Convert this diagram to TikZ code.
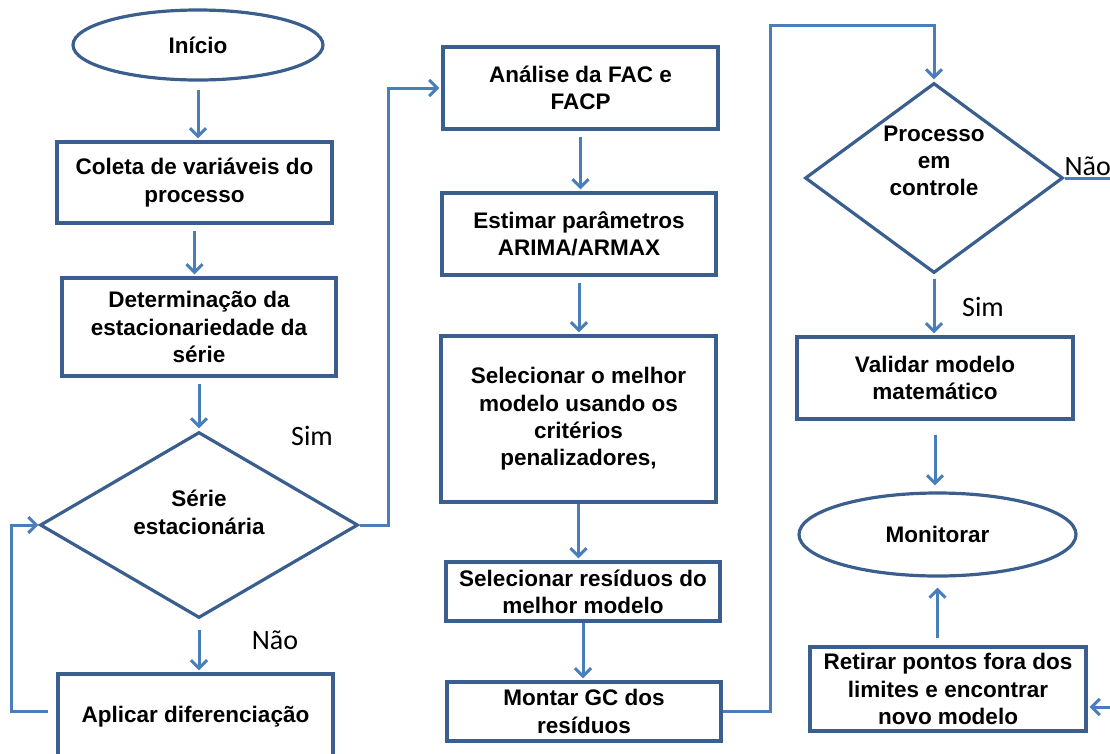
\documentclass[tikz,border=0pt]{standalone}
\usepackage{fontspec}
\setmainfont{Liberation Sans}
\newfontfamily\answerfont{Carlito}
\usepackage{xcolor}
\usetikzlibrary{shapes.geometric, positioning, arrows.meta}
\definecolor{boxblue}{HTML}{3A5F8E}
\definecolor{flowblue}{HTML}{4A7EBB}
% lift the text of a decision a little above its centre
\newcommand{\liftlines}[2]{\raisebox{#1}[\height][\depth]{\begin{tabular}{@{}c@{}}#2\end{tabular}}}
\tikzset{->,
         >={Straight Barb[length=8pt,width=16pt]},
         every node/.style={font=\fontsize{22.5}{27.3}\selectfont\bfseries, align=center},
         proc/.style={rectangle, draw=boxblue, line width=3.4pt, fill=white},
         term/.style={ellipse, draw=boxblue, line width=3.2pt},
         decision/.style={diamond, draw=boxblue, line width=3.2pt, inner sep=0pt},
         flow/.style={draw=flowblue, line width=3pt, shorten <=6pt, shorten >=2pt},
         answer/.style={font=\answerfont\fontsize{28}{30}\selectfont},
         }

\begin{document}
\begin{tikzpicture}[x=1pt, y=-1pt]
    \useasboundingbox (0,0) rectangle (1110,753);

    % left column
    \node[term, minimum width=250pt, minimum height=70pt] (inicio) at (198,45) {Início};
    \node[proc, minimum width=275pt, minimum height=81pt] (coleta) at (194.5,182.5) {Coleta de variáveis do\\processo};
    \node[proc, minimum width=274pt, minimum height=98pt] (determ) at (199,327) {Determinação da\\estacionariedade da\\série};
    \node[decision, minimum width=318pt, minimum height=170pt] (serie) at (199,525) {\liftlines{10pt}{Série\\estacionária}};
    \node[proc, minimum width=275pt, minimum height=86pt] (aplicar) at (195.5,717) {Aplicar diferenciação};

    % middle column
    \node[proc, minimum width=275pt, minimum height=82pt] (analise) at (580.5,88) {Análise da FAC e\\FACP};
    \node[proc, minimum width=274pt, minimum height=82pt] (estimar) at (579,234) {Estimar parâmetros\\ARIMA/ARMAX};
    \node[proc, minimum width=275pt, minimum height=166pt] (melhor) at (578.5,419) {Selecionar o melhor\\modelo usando os\\critérios\\penalizadores,};
    \node[proc, minimum width=274pt, minimum height=59pt] (residuos) at (583,591.5) {Selecionar resíduos do\\melhor modelo};
    \node[proc, minimum width=274pt, minimum height=59pt] (montar) at (584,711.5) {Montar GC dos\\resíduos};

    % right column
    \node[decision, minimum width=258pt, minimum height=190pt] (processo) at (934,178) {\liftlines{15pt}{Processo\\em\\controle}};
    \node[proc, minimum width=276pt, minimum height=82pt] (validar) at (935,378) {Validar modelo\\matemático};
    \node[term, minimum width=277pt, minimum height=83pt] (monitorar) at (937.5,534.5) {Monitorar};
    \node[proc, minimum width=276pt, minimum height=84pt] (retirar) at (948,689) {Retirar pontos fora dos\\limites e encontrar\\novo modelo};

    \coordinate (topturn) at (770,25);

    % answers
    \node[answer] (simA) at (312,436) {Sim};
    \node[answer] (naoA) at (275,640) {Não};
    \node[answer] (simB) at (983,307) {Sim};
    \node[answer, anchor=west] (naoB) at (1061,166) {Não};

    \draw[flow, shorten <=8pt] (inicio.south) -- (inicio.south |- coleta.north);
    \draw[flow] (coleta.south) -- (coleta.south |- determ.north);
    \draw[flow] (determ.south) -- (determ.south |- serie.north);
    \draw[flow, shorten <=10pt] (serie.south) -- (serie.south |- aplicar.north);
    \draw[flow, shorten <=8pt, shorten >=0pt] ([yshift=6pt]aplicar.west) -- ++(-45,0) |- (serie.west);
    \draw[flow, shorten <=0pt] (serie.east) -- ++(29,0) |- (analise.west);

    \draw[flow] (analise.south) -- (analise.south |- estimar.north);
    \draw[flow] (estimar.south) -- (estimar.south |- melhor.north);
    \draw[flow, shorten <=0pt] (melhor.south) -- (melhor.south |- residuos.north);
    \draw[flow, shorten <=0pt] (residuos.south) -- (residuos.south |- montar.north);
    \draw[flow, shorten <=0pt] (montar.east) -| (topturn) -| (processo.north);

    \draw[flow, shorten <=4pt] (processo.south) -- (processo.south |- validar.north);
    \draw[flow, shorten <=14pt, shorten >=6pt] (validar.south) -- (validar.south |- monitorar.north);
    \draw[flow, shorten <=7pt, shorten >=10pt] (retirar.north -| monitorar.south) -- (monitorar.south);
    \draw[flow, shorten <=0pt] (processo.east) -- ++(80,0) |- ([yshift=-18pt]retirar.east);
\end{tikzpicture}
\end{document}
